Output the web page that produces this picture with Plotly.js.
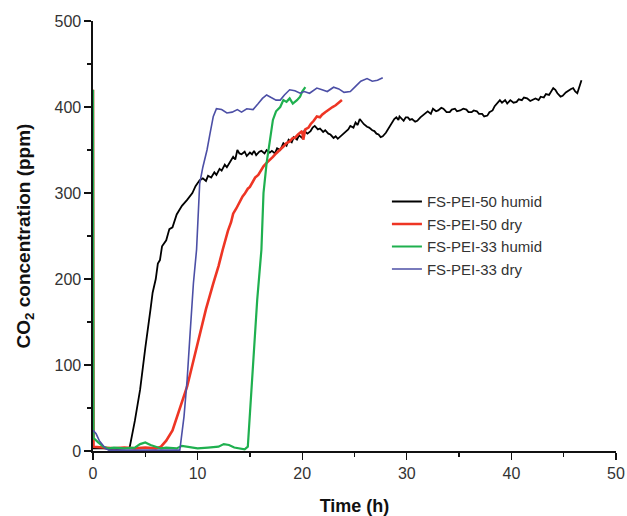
<!DOCTYPE html>
<html><head><meta charset="utf-8">
<script src="https://cdn.plot.ly/plotly-3.0.1.min.js"></script>
<style>html,body{margin:0;padding:0;background:#fff}#chart{width:627px;height:516px}</style>
</head><body><div id="chart"></div>
<script>
const seriesNames = ["FS-PEI-50 humid", "FS-PEI-50 dry", "FS-PEI-33 humid", "FS-PEI-33 dry"];
const seriesColors = ["#000000", "#ee3524", "#1fb04f", "#4c4fa6"];

const blackX = [0,1,2,3,3.5,4.0,4.5,5.0,5.2,5.5,5.7,6.0,6.2,6.4,6.6,7.0,7.3,7.6,8.0,8.5,9.0,9.5,9.8,
  10.2,10.5,10.8,11.0,11.3,11.6,11.8,12.1,12.3,12.6,
  12.8,13.1,13.4,13.6,13.8,14.0,14.2,14.5,14.7,15.0,
  15.2,15.4,15.6,15.9,16.1,16.4,16.6,16.9,17.1,17.4,
  17.6,17.9,18.2,18.5,18.7,19.0,19.2,19.5,19.7,20.0,
  20.2,20.5,20.8,21.0,21.2,21.5,21.7,22.0,22.2,22.5,
  22.7,23.0,23.2,23.4,23.6,23.9,24.1,24.4,24.6,24.9,
  25.1,25.3,25.5,25.7,25.9,26.2,26.4,26.7,26.9,27.1,
  27.3,27.5,27.7,28.0,28.2,28.4,28.6,28.8,29.0,29.2,
  29.3,29.5,29.7,29.9,30.1,30.3,30.5,30.8,31.0,31.3,
  31.5,31.8,32.0,32.3,32.5,32.8,33.0,33.3,33.5,33.8,
  34.1,34.3,34.6,34.8,35.1,35.4,35.7,35.9,36.2,36.4,
  36.7,36.9,37.2,37.4,37.7,37.9,38.2,38.4,38.6,38.9,
  39.1,39.4,39.6,39.9,40.2,40.5,40.7,41.0,41.2,41.5,
  41.8,42.1,42.3,42.6,42.8,43.1,43.3,43.6,43.8,44.0,
  44.2,44.4,44.7,44.9,45.2,45.4,45.7,45.9,46.1,46.3,
  46.5,46.7];
const blackY = [3,3,2,3,4,35,71,120,141,165,184,200,218,222,238,245,258,260,275,285,292,300,308,
  315,317,314,320,318,324,321,328,326,333,
  330,336,342,339,350,346,345,348,343,347,
  345,349,344,348,349,346,350,347,349,346,
  352,350,358,355,362,359,365,362,367,364,
  372,369,372,376,378,374,375,371,373,369,
  368,364,366,363,365,368,370,374,378,376,
  382,379,386,383,380,377,376,373,372,369,
  368,365,366,370,374,379,382,386,388,385,
  389,386,384,388,388,385,386,383,384,388,
  390,393,395,392,398,395,396,399,398,394,
  394,397,398,395,396,398,397,394,394,396,
  395,392,392,389,390,394,396,401,404,408,
  405,408,404,408,405,406,409,408,411,410,
  407,409,410,408,412,411,415,414,418,422,
  420,416,412,413,417,419,421,422,418,416,
  424,431];

const redX = [0,0.05,1,2,3,4,5,6,6.5,7.0,7.6,8.0,8.5,9.0,9.5,10.2,10.8,11.5,12.0,
  12.4,12.7,12.9,13.2,13.4,13.7,14.0,14.3,14.5,14.8,15.0,15.3,15.5,15.8,16.0,16.3,16.6,16.9,17.2,17.5,
  17.7,18.0,18.2,18.5,18.8,19.1,19.3,19.6,19.8,20.0,20.1,20.3,20.6,20.8,21.1,21.4,21.7,21.9,22.2,22.4,
  22.7,22.9,23.2,23.4,23.6,23.8];
const redY = [420,5,4,3,4,3,4,3,5,12,24,38,55,75,100,137,165,195,215,
  234,248,256,266,276,282,290,296,299,305,307,314,318,321,325,331,335,338,342,346,
  348,352,354,358,360,364,364,368,370,372,362,374,376,380,384,389,388,391,394,396,
  398,400,402,404,405,408];

const greenX = [0,0.05,0.5,1,1.5,2,3,4,4.5,5,5.5,6,6.5,7,8,8.5,9,10,11,12,12.5,13,13.5,14,14.5,14.8,15.2,15.7,16.1,16.3,16.6,16.9,17.2,17.5,17.9,18.2,18.5,18.8,19.1,19.5,19.8,20.0,20.3];
const greenY = [420,15,10,5,3,4,3,4,8,10,7,5,3,4,3,6,5,3,4,5,8,7,4,3,2,5,80,176,234,300,335,362,385,395,400,408,406,410,404,408,412,418,423];

const blueX = [0,0.3,0.6,0.9,1.2,1.5,3,5,7,8.3,8.7,9.0,9.3,9.6,9.9,10.2,10.5,10.9,11.2,11.5,11.8,12.3,12.8,13.3,13.8,14.2,14.7,15.3,15.8,16.2,16.6,17.0,17.5,17.9,18.3,18.8,19.3,19.8,20.2,20.7,21.1,21.4,21.9,22.4,23.0,23.5,24.0,24.6,25.1,25.6,26.2,26.7,27.2,27.7];
const blueY = [24,20,12,8,3,1,1,1,1,1,40,83,140,195,234,311,330,350,370,389,398,397,393,394,397,394,398,397,404,410,414,411,408,408,414,420,419,416,418,416,419,422,420,418,423,421,417,418,424,430,433,430,431,434];

const xTicks = [0,10,20,30,40,50];
const yTicks = [0,100,200,300,400,500];
const xMinor = [5,15,25,35,45];
const yMinor = [50,150,250,350,450];

const font = "Liberation Sans, Arial, sans-serif";
const traces = [
  {x: blackX, y: blackY, name: seriesNames[0], line: {color: seriesColors[0], width: 1.8}},
  {x: redX, y: redY, name: seriesNames[1], line: {color: seriesColors[1], width: 2.6}},
  {x: greenX, y: greenY, name: seriesNames[2], line: {color: seriesColors[2], width: 2.2}},
  {x: blueX, y: blueY, name: seriesNames[3], line: {color: seriesColors[3], width: 1.6}}
].map(t => Object.assign({type: "scatter", mode: "lines"}, t));

const axisCommon = {
  showgrid: false, zeroline: false, showline: true, linecolor: "#111", linewidth: 1.6,
  ticks: "outside", ticklen: 7, tickwidth: 1.4, tickcolor: "#111",
  tickfont: {family: font, size: 16, color: "#333"}, mirror: false
};

const layout = {
  width: 627, height: 516,
  margin: {l: 93, r: 11, t: 21, b: 65},
  paper_bgcolor: "#fff", plot_bgcolor: "#fff",
  showlegend: true,
  legend: {x: 0.562, y: 0.618, xanchor: "left", yanchor: "top",
           font: {family: font, size: 15, color: "#333"}, bgcolor: "rgba(0,0,0,0)",
           tracegroupgap: 0},
  xaxis: Object.assign({}, axisCommon, {range: [0, 50], tickvals: xTicks,
    minor: {tickvals: xMinor, ticks: "outside", ticklen: 4, tickwidth: 1.4, tickcolor: "#111"},
    title: {text: "<b>Time (h)</b>", font: {family: font, size: 18, color: "#111"}, standoff: 20}}),
  yaxis: Object.assign({}, axisCommon, {range: [0, 500], tickvals: yTicks,
    minor: {tickvals: yMinor, ticks: "outside", ticklen: 4, tickwidth: 1.4, tickcolor: "#111"},
    title: {text: "<b>CO<sub>2</sub> concentration (ppm)</b>", font: {family: font, size: 19, color: "#111"}, standoff: 19}})
};

Plotly.newPlot("chart", traces, layout, {displayModeBar: false, staticPlot: true});
</script></body></html>
